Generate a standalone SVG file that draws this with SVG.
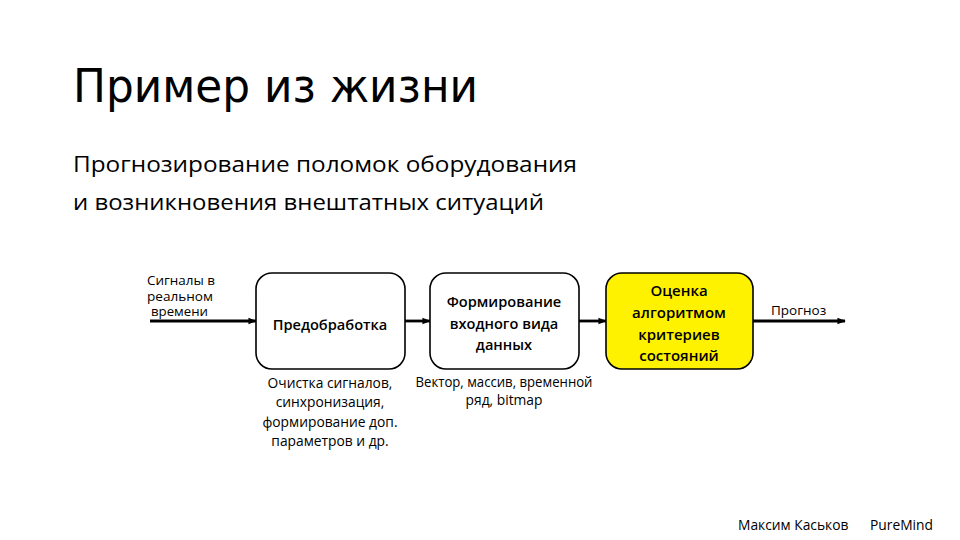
<svg xmlns="http://www.w3.org/2000/svg" width="960" height="540" viewBox="0 0 960 540">
<style>
.t{font-family:"Open Sans","DejaVu Sans",sans-serif;fill:#000}
.h{font-family:"DejaVu Sans","Open Sans",sans-serif;fill:#000}
.box{fill:#fff;stroke:#000;stroke-width:1.6}
.yel{fill:#fff200;stroke:#000;stroke-width:1.6}
.lab{font-size:14.6px;text-anchor:middle;font-weight:600}
.lab3{font-size:15px;text-anchor:middle;font-weight:600}
.sm{font-size:13.8px;text-anchor:middle}
.c{stroke:#000;stroke-width:2.8;fill:none;marker-end:url(#ah)}
</style>
<defs>
<marker id="ah" viewBox="0 0 10 10" refX="9" refY="5" markerWidth="3" markerHeight="3" orient="auto" markerUnits="strokeWidth">
<path d="M0,1 L10,5 L0,9 z" fill="#000"/>
</marker>
</defs>
<rect width="960" height="540" fill="#fff"/>
<text class="h" x="73" y="102" font-size="46" textLength="405" lengthAdjust="spacingAndGlyphs">Пример из жизни</text>
<text class="t" x="73" y="172" font-size="22" textLength="504" lengthAdjust="spacingAndGlyphs">Прогнозирование поломок оборудования</text>
<text class="t" x="73" y="210" font-size="22" textLength="471" lengthAdjust="spacingAndGlyphs">и возникновения внештатных ситуаций</text>
<g id="connectors">
<line class="c" x1="150" y1="321" x2="256" y2="321"/>
<line class="c" x1="405" y1="321" x2="430" y2="321"/>
<line class="c" x1="579" y1="321" x2="606" y2="321"/>
<line class="c" x1="753" y1="321" x2="845" y2="321"/>
</g>
<g id="input-label">
<text class="t" x="147" y="285" font-size="12.6" textLength="68" lengthAdjust="spacingAndGlyphs">Сигналы в</text>
<text class="t" x="147" y="300.5" font-size="12.6" textLength="66" lengthAdjust="spacingAndGlyphs">реальном</text>
<text class="t" x="151" y="316" font-size="12.6" textLength="57" lengthAdjust="spacingAndGlyphs">времени</text>
</g>
<g id="preprocess">
<rect class="box" x="256" y="273" width="149" height="96" rx="16"/>
<text class="t lab" x="330" y="330">Предобработка</text>
<text class="t sm" x="330" y="388">Очистка сигналов,</text>
<text class="t sm" x="330" y="407">синхронизация,</text>
<text class="t sm" x="330" y="427">формирование доп.</text>
<text class="t sm" x="330" y="446">параметров и др.</text>
</g>
<g id="format">
<rect class="box" x="430" y="273" width="149" height="96" rx="16"/>
<text class="t lab" x="504" y="307">Формирование</text>
<text class="t lab" x="504" y="329">входного вида</text>
<text class="t lab" x="504" y="350">данных</text>
<text class="t sm" x="504" y="387" font-size="13" textLength="177" lengthAdjust="spacingAndGlyphs">Вектор, массив, временной</text>
<text class="t sm" x="504" y="404.5" font-size="13">ряд, bitmap</text>
</g>
<g id="evaluate">
<rect class="yel" x="606" y="273" width="147" height="96" rx="16"/>
<text class="t lab3" x="679" y="296">Оценка</text>
<text class="t lab3" x="679" y="318">алгоритмом</text>
<text class="t lab3" x="679" y="340">критериев</text>
<text class="t lab3" x="679" y="361">состояний</text>
</g>
<g id="output-label">
<text class="t" x="771" y="315" font-size="13.5">Прогноз</text>
</g>
<text class="t" x="738" y="530" font-size="13.8">Максим Каськов</text>
<text class="t" x="870" y="530" font-size="13.8">PureMind</text>
</svg>
